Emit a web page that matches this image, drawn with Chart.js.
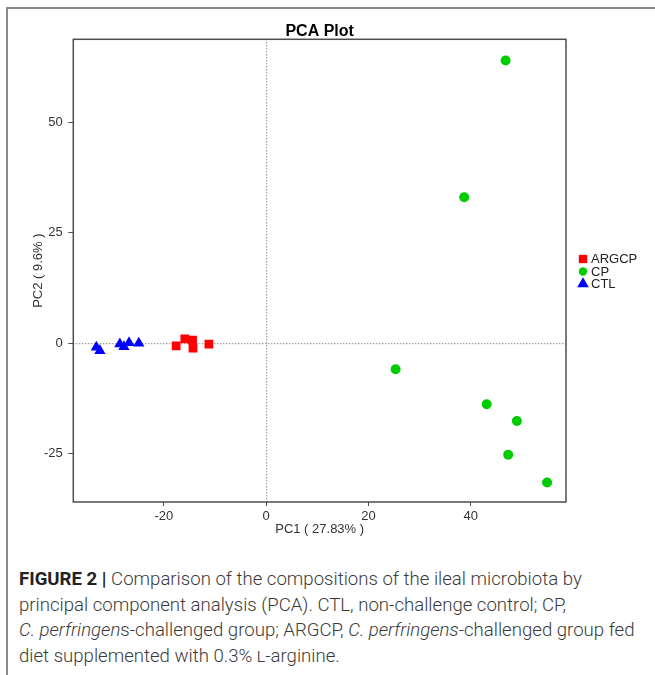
<!DOCTYPE html>
<html>
<head>
<meta charset="utf-8">
<script src="https://cdn.jsdelivr.net/npm/chart.js@4.4.1/dist/chart.umd.min.js"></script>
<style>
html, body { margin: 0; padding: 0; background: #fff; }
body { width: 655px; height: 675px; position: relative; overflow: hidden; font-family: "Liberation Sans", Arial, sans-serif; }
#frame { position: absolute; left: 6px; top: 7px; width: 700px; height: 700px; border-top: 2px solid #8c8c8c; border-left: 2px solid #8c8c8c; }
#wrap { position: absolute; left: 0; top: 0; width: 655px; height: 560px; }
#caption { position: absolute; left: 19px; top: 567px; white-space: nowrap; font-family: Roboto, "Liberation Sans", sans-serif; font-size: 18.6px; line-height: 25.6px; color: #3a3a3a; font-weight: 300; }
#caption b { font-weight: 700; color: #222; }
.sc { font-variant: small-caps; }
</style>
</head>
<body>
<div id="frame"></div>
<div id="wrap"><canvas id="pca" width="655" height="560"></canvas></div>
<div id="caption"><b>FIGURE 2 |</b> Comparison of the compositions of the ileal microbiota by<br>principal component analysis (PCA). CTL, non-challenge control; CP,<br><i>C. perfringen</i>s-challenged group; ARGCP, <i>C. perfringens</i>-challenged group fed<br>diet supplemented with 0.3% <span class="sc">l</span>-arginine.</div>
<script>
const groups = ['ARGCP', 'CP', 'CTL'];
const argcpX = [-17.6, -15.9, -14.4, -14.3, -11.2];
const argcpY = [-0.6, 1.0, 0.7, -1.1, -0.2];
const cpX = [46.8, 38.7, 25.3, 43.1, 49.0, 47.3, 54.9];
const cpY = [63.9, 33.0, -5.9, -13.8, -17.6, -25.2, -31.5];
const ctlX = [-33.2, -32.5, -28.6, -27.8, -26.8, -24.9];
const ctlY = [-0.9, -1.7, -0.2, -0.8, 0.1, 0.0];
const xTicks = [-20, 0, 20, 40];
const yTicks = [-25, 0, 25, 50];

const colors = ['#ff0000', '#00cd00', '#0000ff'];
const styles = ['rect', 'circle', 'triangle'];
const radii = [6.2, 5, 6.5];
const legendRadii = [5.9, 4.2, 6.7];
const axisColor = '#4d4d4d';
const fontFamily = '"Liberation Sans", Arial, sans-serif';

function pts(xs, ys) {
    return xs.map((x, i) => ({ x: x, y: ys[i] }));
}

const frameAndZero = {
    id: 'frameAndZero',
    beforeDatasetsDraw(chart) {
        const ctx = chart.ctx;
        const a = chart.chartArea;
        const x0 = chart.scales.x.getPixelForValue(0);
        const y0 = chart.scales.y.getPixelForValue(0);
        ctx.save();
        ctx.strokeStyle = '#555';
        ctx.lineWidth = 1;
        ctx.setLineDash([1, 2]);
        ctx.beginPath();
        ctx.moveTo(x0 + 0.5, a.top);
        ctx.lineTo(x0 + 0.5, a.bottom);
        ctx.moveTo(a.left, y0 + 0.5);
        ctx.lineTo(a.right, y0 + 0.5);
        ctx.stroke();
        ctx.setLineDash([]);
        ctx.strokeStyle = axisColor;
        ctx.lineWidth = 1.5;
        ctx.strokeRect(a.left, a.top, a.right - a.left, a.bottom - a.top);
        ctx.restore();
    },
    afterDraw(chart) {
        // legend to the right of the plot box
        const ctx = chart.ctx;
        const a = chart.chartArea;
        ctx.save();
        ctx.font = '13px ' + fontFamily;
        ctx.textBaseline = 'middle';
        ctx.textAlign = 'left';
        chart.data.datasets.forEach((ds, i) => {
            const y = 259 + i * 12.5;
            const x = a.right + 17;
            ctx.fillStyle = ds.backgroundColor;
            ctx.strokeStyle = ds.backgroundColor;
            Chart.helpers.drawPoint(ctx, { pointStyle: ds.pointStyle, radius: legendRadii[i], rotation: 0, borderWidth: 0 }, x, y);
            ctx.fillStyle = '#222';
            ctx.fillText(ds.label, x + 8, y + 0.5);
        });
        ctx.restore();
    }
};

const datasets = [pts(argcpX, argcpY), pts(cpX, cpY), pts(ctlX, ctlY)].map((d, i) => ({
    label: groups[i],
    data: d,
    pointStyle: styles[i],
    pointRadius: radii[i],
    backgroundColor: colors[i],
    borderColor: colors[i],
    borderWidth: 0
}));

new Chart(document.getElementById('pca'), {
    type: 'scatter',
    data: { datasets: datasets },
    options: {
        responsive: false,
        animation: false,
        layout: { padding: { left: 26, top: 0, right: 89, bottom: 16 } },
        plugins: {
            legend: { display: false },
            tooltip: { enabled: false },
            title: {
                display: true,
                text: 'PCA Plot',
                fullSize: false,
                color: '#000',
                font: { size: 16, weight: 'bold', family: fontFamily, lineHeight: 1 },
                padding: { top: 23.3, bottom: 0 }
            }
        },
        scales: {
            x: {
                type: 'linear',
                min: -37.7,
                max: 58.6,
                afterBuildTicks: s => { s.ticks = xTicks.map(v => ({ value: v })); },
                afterFit: s => { s.height = 42; },
                border: { display: false },
                grid: { drawOnChartArea: false, tickLength: 4, color: axisColor, tickWidth: 1 },
                ticks: { padding: 3, color: '#333', font: { size: 13, family: fontFamily } },
                title: { display: true, text: 'PC1 ( 27.83% )', color: '#333', font: { size: 13, family: fontFamily }, padding: { top: 0, bottom: 7.2 } }
            },
            y: {
                type: 'linear',
                min: -35.9,
                max: 68.7,
                afterBuildTicks: s => { s.ticks = yTicks.map(v => ({ value: v })); },
                afterFit: s => { s.width = 47.3; },
                border: { display: false },
                grid: { drawOnChartArea: false, tickLength: 5, color: axisColor, tickWidth: 1 },
                ticks: { padding: 5.5, color: '#333', font: { size: 13, family: fontFamily } },
                title: { display: true, text: 'PC2 ( 9.6% )', color: '#333', font: { size: 13, family: fontFamily }, padding: { top: 4.2, bottom: 0 } }
            }
        }
    },
    plugins: [frameAndZero]
});
</script>
</body>
</html>
